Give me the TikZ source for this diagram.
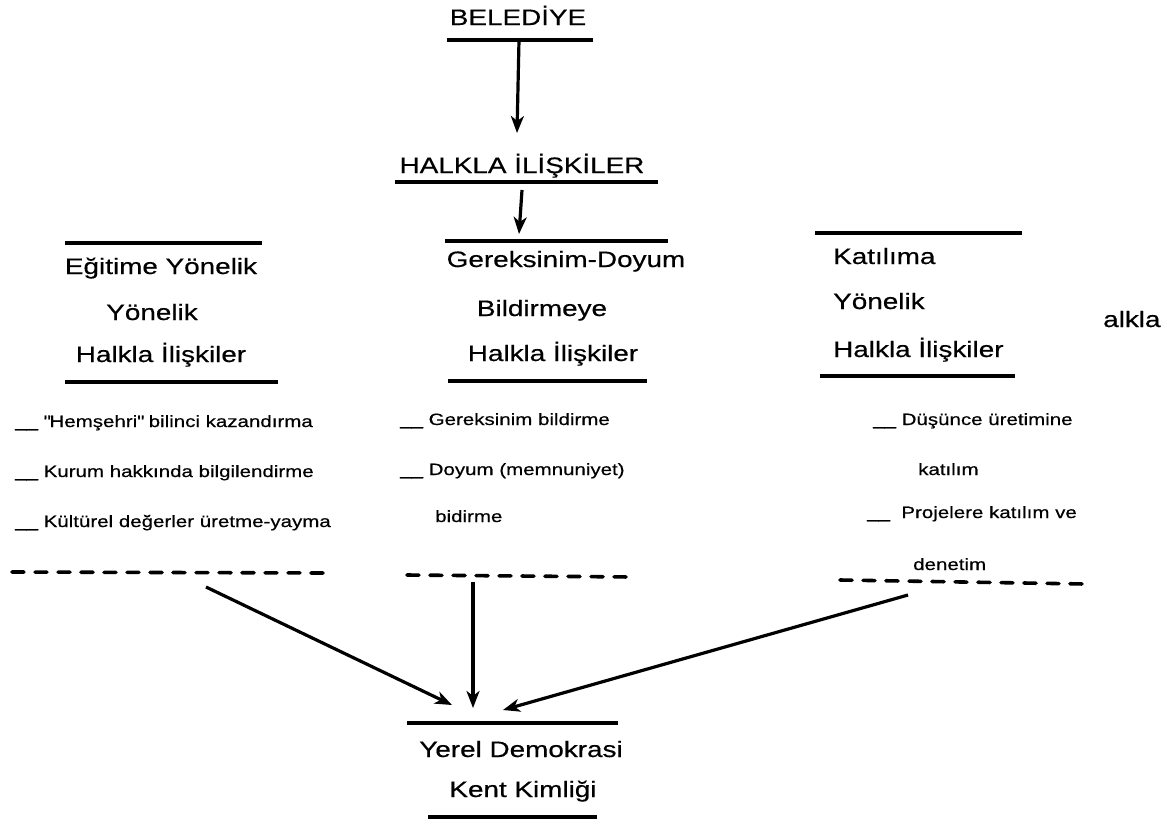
\documentclass[tikz,border=0pt]{standalone}
\usepackage{fontspec}
\setmainfont{Liberation Sans}[FakeStretch=1.25, FakeBold=0.5]
\usetikzlibrary{arrows.meta}

\tikzset{
  head/.style={font=\fontsize{22.3}{26}\selectfont, inner sep=0pt, anchor=base},
  headl/.style={head, anchor=base west},
  item/.style={font=\fontsize{16.4}{19}\selectfont, inner sep=0pt, anchor=base west},
  rule/.style={line width=3.2pt},
  arr/.style={line width=3.2pt, -{Stealth[length=17pt,width=13pt,inset=5pt]}},
  cutline/.style={line width=3.6pt, dash pattern=on 12pt off 11pt, line cap=round},
}

\begin{document}
\begin{tikzpicture}[x=1pt, y=-1pt]
  \useasboundingbox (0,0) rectangle (1167,823);

  % Top: municipality -> public relations
  \node[head] (bel) at (518,25) {BELEDİYE};
  \draw[rule] (447,40) -- (593,40);
  \coordinate (bel-u) at (519,40);
  \coordinate (hal-in) at (517,133);
  \node[head] (hal) at (522,173) {HALKLA İLİŞKİLER};
  \draw[rule] (395,182) -- (658,182);
  \coordinate (hal-u) at (522,190);
  \coordinate (mid-in) at (519,234);
  \draw[arr] (bel-u) -- (hal-in);
  \draw[arr] (hal-u) -- (mid-in);

  % Left column
  \draw[rule] (65,243) -- (262,243);
  \node[head] (egt1) at (161,274) {Eğitime Yönelik};
  \node[head] (egt2) at (152,320) {Yönelik};
  \node[head] (egt3) at (161,362) {Halkla İlişkiler};
  \draw[rule] (65,382) -- (278,382);
  \node[item] (egta) at (15,427) {\_\_\ \textquotedbl Hemşehri\textquotedbl\ bilinci kazandırma};
  \node[item] (egtb) at (15,477) {\_\_\ Kurum hakkında bilgilendirme};
  \node[item] (egtc) at (15,527) {\_\_\ Kültürel değerler üretme-yayma};
  \draw[cutline] (12,572) -- (328,573);
  \coordinate (egt-out) at (206,587);

  % Middle column
  \draw[rule] (445,241) -- (668,241);
  \node[head] (ger1) at (566,267) {Gereksinim-Doyum};
  \node[head] (ger2) at (542,316) {Bildirmeye};
  \node[head] (ger3) at (553,361) {Halkla İlişkiler};
  \draw[rule] (448,381) -- (647,381);
  \node[item] (gera) at (400,425) {\_\_\ Gereksinim bildirme};
  \node[item] (gerb) at (400,475) {\_\_\ Doyum (memnuniyet)};
  \node[item] (gerc) at (435,522) {bidirme};
  \draw[cutline] (407,575) -- (632,577);
  \coordinate (ger-out) at (473,582);

  % Right column
  \draw[rule] (815,233) -- (1022,233);
  \node[headl] (kat1) at (833,264) {Katılıma};
  \node[headl] (kat2) at (833,309) {Yönelik};
  \node[headl] (kat3) at (833,357) {Halkla İlişkiler};
  \node[headl] (kat4) at (1103,327) {alkla};
  \draw[rule] (820,376) -- (1015,376);
  \node[item] (kata) at (873,425) {\_\_\ Düşünce üretimine};
  \node[item] (katb) at (918,475) {katılım};
  \node[item] (katc) at (867,518) {\_\_\ \ Projelere katılım ve};
  \node[item] (katd) at (913,570) {denetim};
  \draw[cutline] (840,580) -- (1085,584);
  \coordinate (kat-out) at (908,595);

  % Bottom: local democracy, city identity
  \coordinate (dem-l) at (452,705);
  \coordinate (dem-m) at (473,708);
  \coordinate (dem-r) at (503,710);
  \draw[arr] (egt-out) -- (dem-l);
  \draw[arr] (ger-out) -- (dem-m);
  \draw[arr] (kat-out) -- (dem-r);
  \draw[rule] (407,723) -- (618,723);
  \node[head] (dem) at (521,757) {Yerel Demokrasi};
  \node[head] (kent) at (523,797) {Kent Kimliği};
  \draw[rule] (428,817) -- (597,817);
\end{tikzpicture}
\end{document}
